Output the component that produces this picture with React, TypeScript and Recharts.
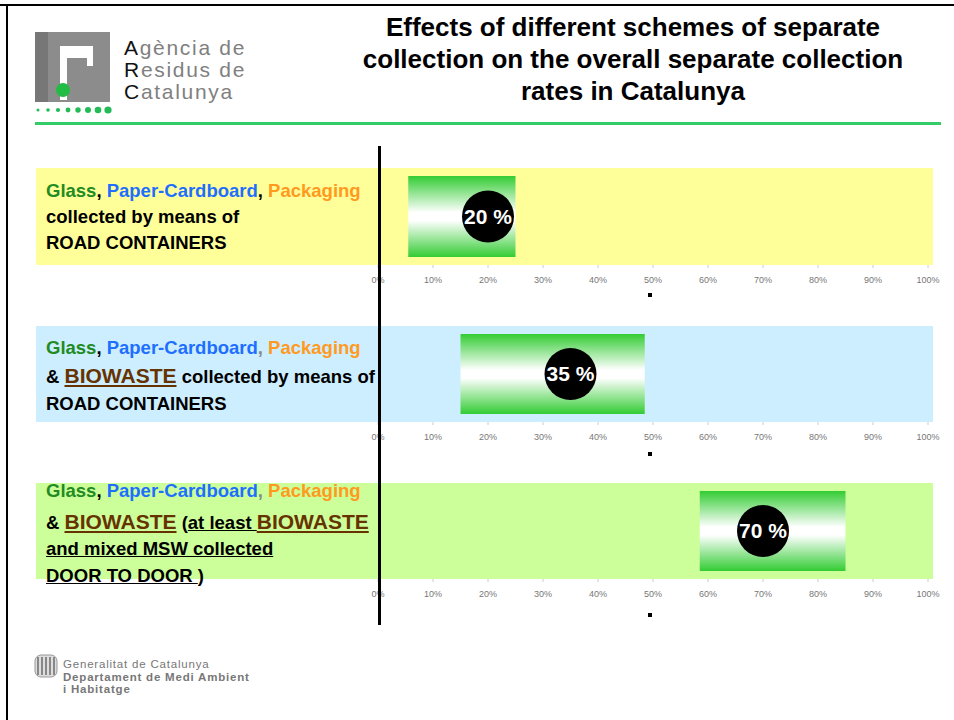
import { BarChart, Bar, XAxis, YAxis, ReferenceDot } from "recharts";

// data read from the slide
const schemes = ["Road containers", "Road containers + biowaste", "Door to door"];
const rangeLow = [5.5, 15, 58.5];
const rangeHigh = [25, 48.5, 85];
const rates = [20, 35, 70];
const axisTicks = [0, 10, 20, 30, 40, 50, 60, 70, 80, 90, 100];

// layout
const panelTops = [168, 326, 483];
const panelHeights = [97, 96, 96];
const panelColors = ["#ffff99", "#cceeff", "#ccff99"];
const AXIS_H = 30;
const FONT = "Arial, 'Liberation Sans', Helvetica, sans-serif";

const GREEN = "#228b22";
const BLUE = "#1f6fff";
const ORANGE = "#ff9a1f";
const BROWN = "#663300";

function Bio() {
  return (
    <span style={{ color: BROWN, fontSize: 21, textDecoration: "underline" }}>BIOWASTE</span>
  );
}

function Materials({ grayComma }: { grayComma?: boolean }) {
  return (
    <>
      <span style={{ color: GREEN }}>Glass</span>,{" "}
      <span style={{ color: BLUE }}>Paper-Cardboard</span>
      <span style={{ color: grayComma ? "#888" : "#000" }}>,</span>{" "}
      <span style={{ color: ORANGE }}>Packaging</span>
    </>
  );
}

const lineStyle = (top: number): React.CSSProperties => ({
  position: "absolute",
  left: 46,
  top,
  whiteSpace: "nowrap",
  fontFamily: FONT,
  fontWeight: 700,
  fontSize: 18.5,
  lineHeight: "21px",
  color: "#000",
});

function PanelChart({ i }: { i: number }) {
  const data = [{ name: schemes[i], range: [rangeLow[i], rangeHigh[i]], rate: rates[i] }];
  return (
    <div style={{ position: "absolute", left: 36, top: panelTops[i] }}>
      <BarChart
        width={915}
        height={panelHeights[i] + AXIS_H}
        data={data}
        layout="vertical"
        margin={{ top: 0, right: 23, bottom: 0, left: 342 }}
        barCategoryGap={8}
      >
        <XAxis
          type="number"
          domain={[0, 100]}
          ticks={axisTicks}
          tickFormatter={(v) => `${v}%`}
          axisLine={false}
          tickLine={{ stroke: "#ccc" }}
          tickSize={3}
          tickMargin={9}
          height={AXIS_H}
          tick={{ fontSize: 9, fill: "#777", fontFamily: FONT }}
          interval={0}
        />
        <YAxis type="category" dataKey="name" hide />
        <Bar dataKey="range" fill="url(#barGrad)" isAnimationActive={false} />
        <ReferenceDot
          x={rates[i]}
          y={schemes[i]}
          r={26}
          fill="#000"
          stroke="none"
          label={{
            value: `${rates[i]} %`,
            position: "center",
            fill: "#fff",
            fontSize: 21,
            fontWeight: 700,
            fontFamily: FONT,
          }}
        />
      </BarChart>
    </div>
  );
}

export default function App() {
  return (
    <div
      style={{
        position: "absolute",
        left: 0,
        top: 0,
        width: 954,
        height: 720,
        background: "#fff",
        overflow: "hidden",
        fontFamily: FONT,
      }}
    >
      <svg width={0} height={0} style={{ position: "absolute" }}>
        <defs>
          <linearGradient id="barGrad" x1="0" y1="0" x2="0" y2="1">
            <stop offset="0" stopColor="#33cc33" />
            <stop offset="0.45" stopColor="#ffffff" />
            <stop offset="0.55" stopColor="#ffffff" />
            <stop offset="1" stopColor="#33cc33" />
          </linearGradient>
        </defs>
      </svg>

      {/* slide frame */}
      <div style={{ position: "absolute", left: 0, top: 4, width: 954, height: 2, background: "#000" }} />
      <div style={{ position: "absolute", left: 6, top: 4, width: 2, height: 716, background: "#000" }} />

      {/* ARC logo */}
      <svg width={120} height={100} style={{ position: "absolute", left: 30, top: 28 }}>
        <rect x={5} y={4} width={75} height={70} fill="#8c8c8c" />
        <rect x={5} y={4} width={13} height={70} fill="#777" />
        <rect x={30} y={18} width={7} height={54} fill="#fff" />
        <path d="M37 18 h26 v12 h-26 z" fill="#fff" />
        <rect x={57} y={18} width={6} height={20} fill="#fff" />
        <circle cx={33} cy={62} r={7} fill="#22bb44" />
        {[0, 1, 2, 3, 4, 5, 6, 7].map((k) => (
          <circle key={k} cx={8 + k * 10} cy={82} r={1.5 + k * 0.3} fill="#22bb55" />
        ))}
      </svg>
      <div
        style={{
          position: "absolute",
          left: 124,
          top: 37,
          fontSize: 21,
          letterSpacing: 1.7,
          lineHeight: "22px",
          color: "#808080",
        }}
      >
        <div><span style={{ color: "#111" }}>A</span>gència de</div>
        <div><span style={{ color: "#111" }}>R</span>esidus de</div>
        <div><span style={{ color: "#111" }}>C</span>atalunya</div>
      </div>
      <div style={{ position: "absolute", left: 35, top: 122, width: 906, height: 3, background: "#3c6" }} />

      {/* title */}
      <div
        style={{
          position: "absolute",
          left: 300,
          top: 11,
          width: 666,
          textAlign: "center",
          fontWeight: 700,
          fontSize: 26,
          lineHeight: "32px",
          color: "#000",
        }}
      >
        Effects of different schemes of separate
        <br />
        collection on the overall separate collection
        <br />
        rates in Catalunya
      </div>

      {/* panel backgrounds */}
      {panelTops.map((t, i) => (
        <div
          key={i}
          style={{
            position: "absolute",
            left: 36,
            top: t,
            width: 897,
            height: panelHeights[i],
            background: panelColors[i],
          }}
        />
      ))}

      {/* panel 1 text */}
      <div style={lineStyle(180)}><Materials /></div>
      <div style={lineStyle(206)}>collected by means of</div>
      <div style={lineStyle(232)}>ROAD CONTAINERS</div>

      {/* panel 2 text */}
      <div style={lineStyle(337)}><Materials grayComma /></div>
      <div style={lineStyle(365)}>& <Bio /> collected by means of</div>
      <div style={lineStyle(393)}>ROAD CONTAINERS</div>

      {/* panel 3 text */}
      <div style={lineStyle(480)}><Materials grayComma /></div>
      <div style={lineStyle(511)}>
        & <Bio /> (<span style={{ textDecoration: "underline" }}>at least </span>
        <Bio />
      </div>
      <div style={lineStyle(538)}>
        <span style={{ textDecoration: "underline" }}>and mixed MSW collected</span>
      </div>
      <div style={lineStyle(565)}>
        <span style={{ textDecoration: "underline" }}>DOOR TO DOOR </span>)
      </div>

      {/* charts */}
      {schemes.map((_, i) => (
        <PanelChart key={i} i={i} />
      ))}

      {/* separator line and marks */}
      <div style={{ position: "absolute", left: 378, top: 146, width: 3, height: 479, background: "#000" }} />
      {[293, 452, 613].map((t) => (
        <div key={t} style={{ position: "absolute", left: 648, top: t, width: 4, height: 4, background: "#000" }} />
      ))}

      {/* footer */}
      <svg width={26} height={26} style={{ position: "absolute", left: 34, top: 654 }}>
        <rect x={1} y={1} width={22} height={22} rx={6} fill="#ddd" stroke="#999" />
        {[4, 8, 12, 16, 20].map((x) => (
          <rect key={x} x={x - 1} y={3} width={2} height={18} fill="#888" />
        ))}
      </svg>
      <div
        style={{
          position: "absolute",
          left: 63,
          top: 658,
          fontSize: 11.5,
          letterSpacing: 0.8,
          lineHeight: "12.5px",
          color: "#777",
        }}
      >
        <div>Generalitat de Catalunya</div>
        <div style={{ fontWeight: 700 }}>Departament de Medi Ambient</div>
        <div style={{ fontWeight: 700 }}>i Habitatge</div>
      </div>
    </div>
  );
}
